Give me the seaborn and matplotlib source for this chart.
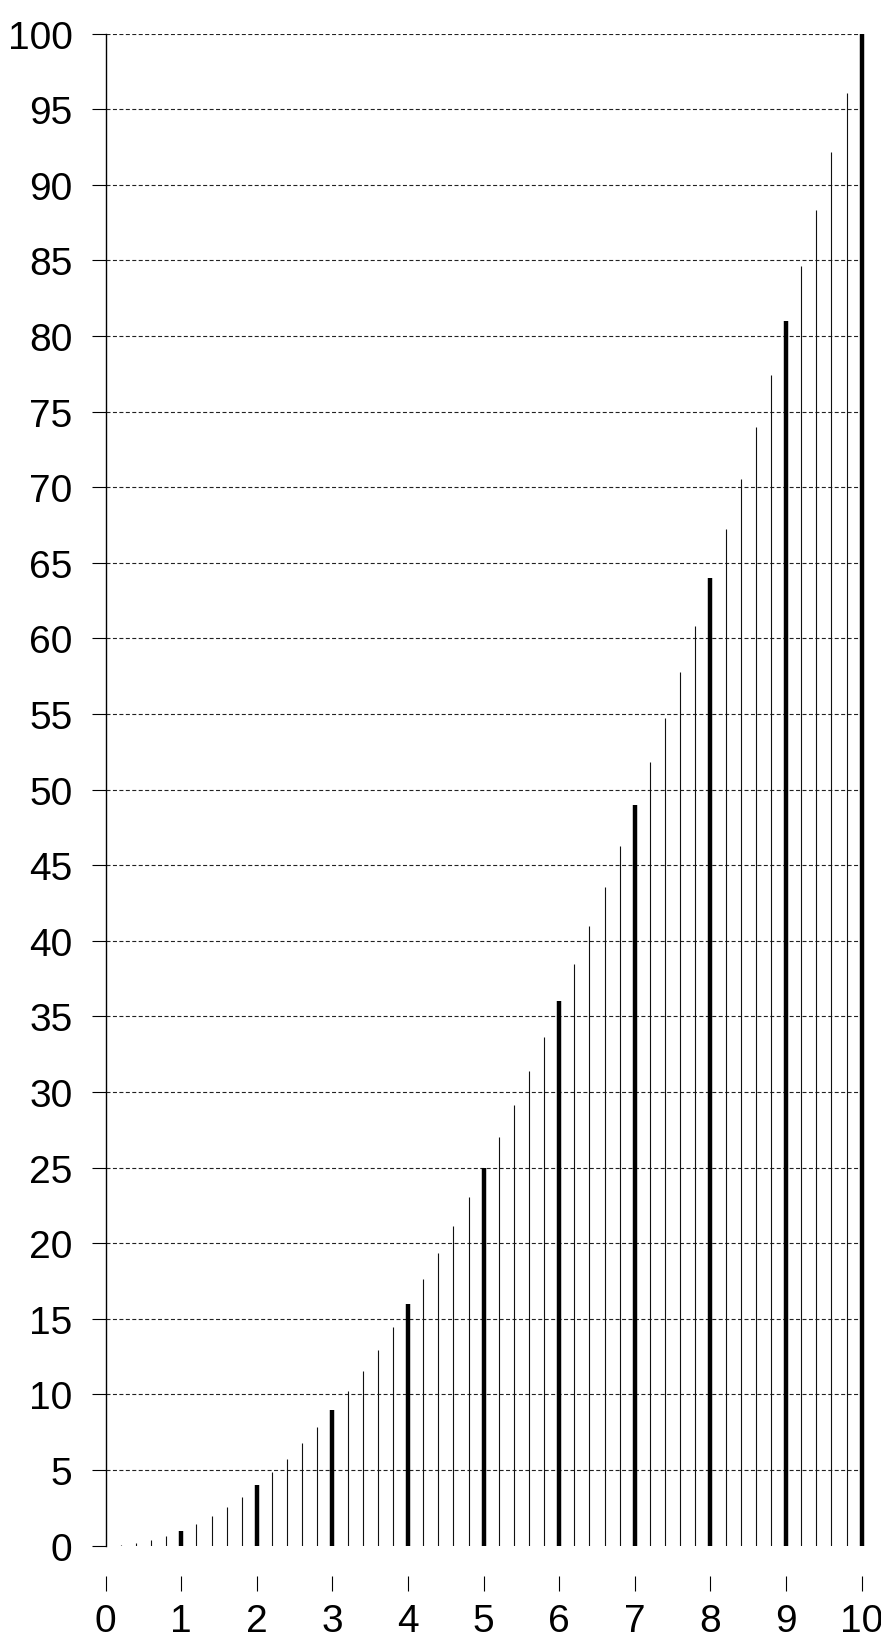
import matplotlib
matplotlib.use('Agg')
import matplotlib.pyplot as plt
import seaborn as sns

# values (height = x squared)
major_x = [0, 1, 2, 3, 4, 5, 6, 7, 8, 9, 10]
major_h = [0, 1, 4, 9, 16, 25, 36, 49, 64, 81, 100]

minor_x = [0.2, 0.4, 0.6, 0.8, 1.2, 1.4, 1.6, 1.8, 2.2, 2.4, 2.6, 2.8,
           3.2, 3.4, 3.6, 3.8, 4.2, 4.4, 4.6, 4.8, 5.2, 5.4, 5.6, 5.8,
           6.2, 6.4, 6.6, 6.8, 7.2, 7.4, 7.6, 7.8, 8.2, 8.4, 8.6, 8.8,
           9.2, 9.4, 9.6, 9.8]
minor_h = [0.04, 0.16, 0.36, 0.64, 1.44, 1.96, 2.56, 3.24, 4.84, 5.76, 6.76, 7.84,
           10.24, 11.56, 12.96, 14.44, 17.64, 19.36, 21.16, 23.04, 27.04, 29.16, 31.36, 33.64,
           38.44, 40.96, 43.56, 46.24, 51.84, 54.76, 57.76, 60.84, 67.24, 70.56, 73.96, 77.44,
           84.64, 88.36, 92.16, 96.04]

x_ticks = list(range(0, 11))
y_ticks = list(range(0, 101, 5))

sns.set_theme(style='white')
plt.rcParams['font.family'] = ['Liberation Sans', 'DejaVu Sans']

fig = plt.figure(figsize=(8.81, 16.40), dpi=100)
ax = fig.add_axes([0.12, 0.0569, 0.858, 0.922])

# dashed horizontal guides
for yv in y_ticks[1:]:
    ax.axhline(yv, xmin=0, xmax=0.995, color='#222222', lw=0.8,
               linestyle=(0, (3.6, 2.2)), zorder=1)

ax.vlines(minor_x, 0, minor_h, color='#111111', lw=0.8, zorder=2)
ax.vlines(major_x, 0, major_h, color='black', lw=3.2, zorder=3, clip_on=False)

ax.set_xlim(0, 10)
ax.set_ylim(0, 100)
ax.set_xticks(x_ticks)
ax.set_yticks(y_ticks)
ax.set_xticklabels([str(v) for v in x_ticks])
ax.set_yticklabels([str(v) for v in y_ticks])

for s in ['top', 'right']:
    ax.spines[s].set_visible(False)
ax.spines['bottom'].set_position(('outward', 22))
ax.spines['bottom'].set_visible(False)
ax.spines['left'].set_color('black')
ax.spines['left'].set_linewidth(1.0)

ax.tick_params(axis='x', direction='out', length=11, width=0.8, color='black',
               pad=8, labelsize=28, labelcolor='black', bottom=True)
ax.tick_params(axis='y', direction='out', length=10, width=0.8, color='black',
               pad=14, labelsize=28, labelcolor='black', left=True)
ax.grid(False)

fig.savefig('out.png', dpi=100, facecolor='white')
